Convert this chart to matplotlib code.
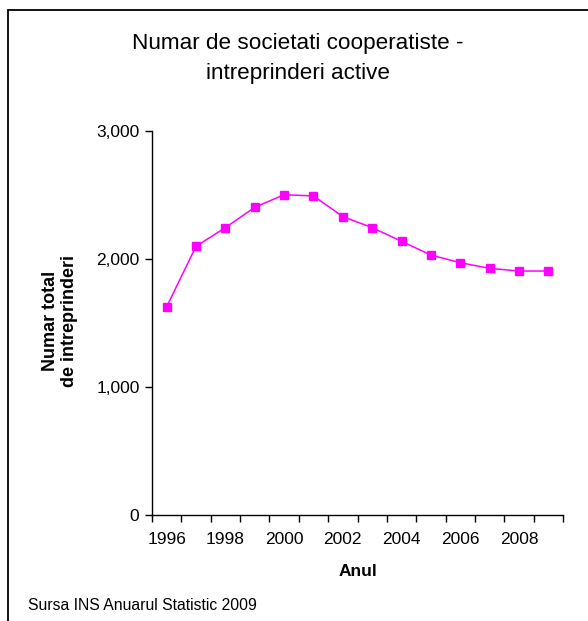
import matplotlib
matplotlib.use("Agg")
import matplotlib.pyplot as plt
from matplotlib.ticker import FuncFormatter, FixedLocator, NullFormatter
from matplotlib.patches import Rectangle

plt.rcParams['font.family'] = ['Liberation Sans', 'DejaVu Sans']

years = [1996, 1997, 1998, 1999, 2000, 2001, 2002, 2003, 2004, 2005, 2006, 2007, 2008, 2009]
values = [1627, 2099, 2245, 2404, 2502, 2493, 2331, 2245, 2138, 2031, 1971, 1927, 1906, 1906]
y_ticks = [0, 1000, 2000, 3000]

W, H = 588, 621
fig = plt.figure(figsize=(W / 100, H / 100), dpi=100)
fig.patches.append(Rectangle((8 / W, -0.5), 1.5, 1.5 - 10 / H, transform=fig.transFigure,
                             fill=False, edgecolor='black', linewidth=1.3))

ax = fig.add_axes([152 / W, 1 - 515 / H, (563 - 152) / W, (515 - 131) / H])
x = list(range(len(years)))
ax.plot(x, values, color='#FF00FF', linewidth=1.1, marker='s', markersize=5.5,
        markerfacecolor='#FF00FF', markeredgecolor='#FF00FF')

ax.set_xlim(-0.5, len(years) - 0.5)
ax.set_ylim(0, 3000)
ax.set_yticks(y_ticks)
ax.yaxis.set_major_formatter(FuncFormatter(lambda v, p: f"{int(v):,}"))

label_pos = [i for i in x if years[i] % 2 == 0]
ax.xaxis.set_major_locator(FixedLocator(label_pos))
ax.set_xticklabels([str(years[i]) for i in label_pos])
ax.xaxis.set_minor_locator(FixedLocator([i - 0.5 for i in range(len(years) + 1)]))
ax.xaxis.set_minor_formatter(NullFormatter())
ax.tick_params(axis='x', which='major', length=0, pad=12.5, labelsize=12.5)
ax.tick_params(axis='x', which='minor', length=5, width=1)
ax.tick_params(axis='y', length=5, width=1, labelsize=12.5, pad=4)

for s in ['top', 'right']:
    ax.spines[s].set_visible(False)
for s in ['left', 'bottom']:
    ax.spines[s].set_linewidth(1)

fig.text(298 / W, 1 - 44 / H, "Numar de societati cooperatiste -", ha='center', va='center', fontsize=16.2)
fig.text(298 / W, 1 - 74 / H, "intreprinderi active", ha='center', va='center', fontsize=16.2)
fig.text(358 / W, 1 - 571 / H, "Anul", ha='center', va='center', fontsize=12.5, fontweight='bold')
fig.text(60 / W, 1 - 321 / H, "Numar total\nde intreprinderi", ha='center', va='center',
         rotation=90, fontsize=13, fontweight='bold', linespacing=1.2)
fig.text(28 / W, 1 - 606 / H, "Sursa INS Anuarul Statistic 2009", ha='left', va='center', fontsize=11.3)

fig.savefig("out.png", dpi=100)
